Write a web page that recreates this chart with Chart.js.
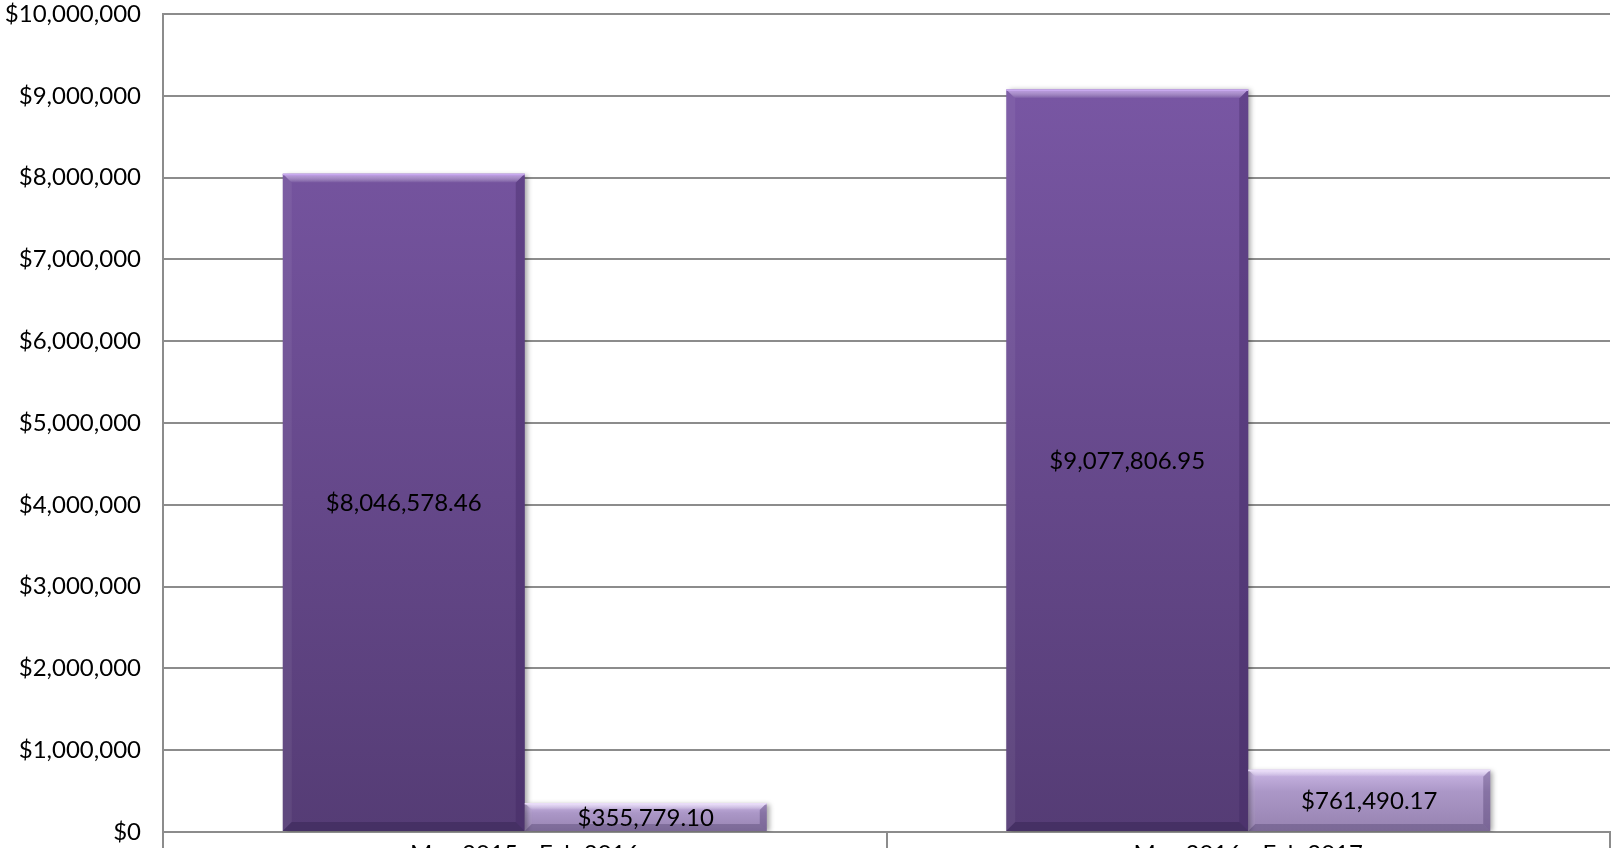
<!DOCTYPE html>
<html>
<head>
<meta charset="utf-8">
<script src="https://cdn.jsdelivr.net/npm/chart.js@4.4.1/dist/chart.umd.min.js"></script>
<style>
  html, body { margin: 0; padding: 0; background: #ffffff; overflow: hidden; width: 1612px; height: 848px; }
  #wrap { width: 1612px; height: 900px; }
</style>
</head>
<body>
<div id="wrap"><canvas id="c" width="1612" height="900"></canvas></div>
<script>
const categories = ["May 2015 - Feb 2016", "May 2016 - Feb 2017"];
const seriesA = [8046578.46, 9077806.95];
const seriesB = [355779.10, 761490.17];
const yTicks = [0, 1000000, 2000000, 3000000, 4000000, 5000000, 6000000, 7000000, 8000000, 9000000, 10000000];

const FONT = "Lato, 'Open Sans', sans-serif";
const usd0 = v => '$' + Math.round(v).toLocaleString('en-US');
const usd2 = v => '$' + v.toLocaleString('en-US', { minimumFractionDigits: 2, maximumFractionDigits: 2 });

function areaGradient(ctx, stops) {
  const chart = ctx.chart;
  const area = chart.chartArea;
  if (!area) return stops[0];
  const g = chart.ctx.createLinearGradient(0, area.top, 0, area.bottom);
  g.addColorStop(0, stops[0]);
  g.addColorStop(1, stops[1]);
  return g;
}
function barGradient(ctx, stops) {
  const chart = ctx.chart;
  const ys = chart.scales && chart.scales.y;
  if (!chart.chartArea || !ys || ctx.raw == null) return stops[stops.length - 1][1];
  const top = ys.getPixelForValue(ctx.raw);
  const base = ys.getPixelForValue(0);
  const g = chart.ctx.createLinearGradient(0, top, 0, base);
  stops.forEach(s => g.addColorStop(s[0], s[1]));
  return g;
}

const shadowPlugin = {
  id: 'shadow',
  beforeDatasetsDraw(chart) {
    const c = chart.ctx;
    c.save();
    c.shadowColor = 'rgba(0,0,0,0.35)';
    c.shadowBlur = 5;
    c.shadowOffsetX = 3;
    c.shadowOffsetY = 1;
  },
  afterDatasetsDraw(chart) {
    chart.ctx.restore();
  }
};

const bevelPlugin = {
  id: 'bevel',
  afterDatasetsDraw(chart) {
    const c = chart.ctx;
    const specs = [
      { top: 'rgba(200,165,240,0.85)', topEdge: '#c8a9ee', side: 'rgba(60,35,95,0.35)', bottom: 'rgba(40,25,70,0.35)', b: 9 },
      { top: 'rgba(240,230,255,0.85)', topEdge: '#e9dcf8', side: 'rgba(70,50,100,0.35)', bottom: 'rgba(60,45,90,0.3)', b: 7 }
    ];
    chart.data.datasets.forEach((ds, di) => {
      const meta = chart.getDatasetMeta(di);
      const s = specs[di];
      meta.data.forEach(el => {
        const w = el.width;
        const l = el.x - w / 2, r = el.x + w / 2;
        const t = el.y, bt = el.base;
        const b = Math.min(s.b, (bt - t) / 2.5);
        c.save();
        const tg = c.createLinearGradient(0, t, 0, t + b);
        tg.addColorStop(0, s.top);
        tg.addColorStop(1, 'rgba(255,255,255,0)');
        c.fillStyle = tg;
        c.beginPath();
        c.moveTo(l, t); c.lineTo(r, t); c.lineTo(r - b, t + b); c.lineTo(l + b, t + b); c.closePath();
        c.fill();
        c.fillStyle = 'rgba(255,255,255,0.06)';
        c.beginPath();
        c.moveTo(l, t); c.lineTo(l + b, t + b); c.lineTo(l + b, bt - b); c.lineTo(l, bt); c.closePath();
        c.fill();
        c.fillStyle = s.side;
        c.beginPath();
        c.moveTo(r, t); c.lineTo(r - b, t + b); c.lineTo(r - b, bt - b); c.lineTo(r, bt); c.closePath();
        c.fill();
        c.fillStyle = s.bottom;
        c.beginPath();
        c.moveTo(l, bt); c.lineTo(l + b, bt - b); c.lineTo(r - b, bt - b); c.lineTo(r, bt); c.closePath();
        c.fill();
        c.strokeStyle = s.topEdge;
        c.lineWidth = 1.5;
        c.beginPath(); c.moveTo(l, t + 0.75); c.lineTo(r, t + 0.75); c.stroke();
        c.restore();
      });
    });
  }
};

const labelPlugin = {
  id: 'valueLabels',
  afterDatasetsDraw(chart) {
    const c = chart.ctx;
    c.save();
    c.font = "24px " + FONT;
    c.fillStyle = '#000000';
    c.textAlign = 'center';
    c.textBaseline = 'middle';
    chart.data.datasets.forEach((ds, di) => {
      const meta = chart.getDatasetMeta(di);
      meta.data.forEach((el, i) => {
        c.fillText(usd2(ds.data[i]), el.x, (el.y + el.base) / 2 + 1);
      });
    });
    c.restore();
  }
};

new Chart(document.getElementById('c'), {
  type: 'bar',
  data: {
    labels: categories,
    datasets: [
      {
        label: 'Series 1',
        data: seriesA,
        backgroundColor: ctx => areaGradient(ctx, ['#7c59a8', '#553c75']),
        borderWidth: 0
      },
      {
        label: 'Series 2',
        data: seriesB,
        backgroundColor: ctx => barGradient(ctx, [[0, '#cbb7e6'], [0.35, '#ab97c7'], [1, '#9682b0']]),
        borderWidth: 0
      }
    ]
  },
  plugins: [shadowPlugin, bevelPlugin, labelPlugin],
  options: {
    responsive: false,
    animation: false,
    devicePixelRatio: 1,
    layout: { padding: { top: 0, right: 2, left: 0, bottom: 0 } },
    datasets: { bar: { categoryPercentage: 0.669, barPercentage: 1.0 } },
    plugins: { legend: { display: false }, tooltip: { enabled: false } },
    scales: {
      x: {
        offset: true,
        grid: { offset: true, drawOnChartArea: false, drawTicks: true, tickLength: 20, color: '#8c8c8c', lineWidth: 2 },
        border: { display: true, color: '#8c8c8c', width: 2 },
        ticks: { color: '#000000', font: { family: FONT, size: 24 }, padding: -12 },
        afterFit: s => { s.height = 900 - 832; }
      },
      y: {
        min: 0, max: 10000000,
        afterBuildTicks: s => { s.ticks = yTicks.map(v => ({ value: v })); },
        grid: { color: '#8c8c8c', lineWidth: 2, drawTicks: false },
        border: { display: true, color: '#8c8c8c', width: 2 },
        ticks: { color: '#000000', font: { family: FONT, size: 24, lineHeight: 1.0 }, padding: 22, callback: v => usd0(v) },
        afterFit: s => { s.width = 163; s.paddingTop = 14; }
      }
    }
  }
});
</script>
</body>
</html>
